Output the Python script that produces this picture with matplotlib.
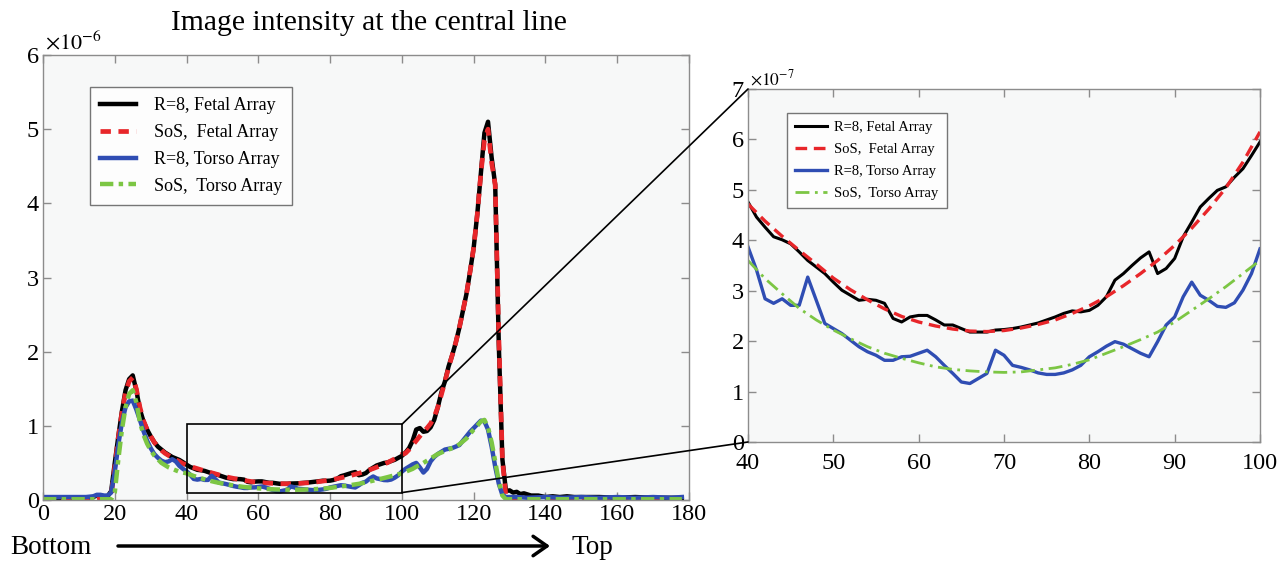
import numpy as np
import matplotlib
matplotlib.use("Agg")
import matplotlib.pyplot as plt
from matplotlib.patches import Rectangle, ConnectionPatch, FancyArrowPatch

plt.rcParams['font.family'] = ['Liberation Serif', 'DejaVu Serif']
plt.rcParams['mathtext.fontset'] = 'stix'

# ---------------- data (units: 1e-6 for full view, 1e-7 for zoom view) -------------
labels = ["R=8, Fetal Array", "SoS,  Fetal Array", "R=8, Torso Array", "SoS,  Torso Array"]
colors = ["#000000", "#e8262a", "#2f4db3", "#7cc644"]

# zoom window 40..100 (values in 1e-7)
zoom_x = list(range(40, 101))
r8_fetal_zoom = [4.76, 4.46, 4.26, 4.07, 4.01, 3.93, 3.77, 3.60, 3.47, 3.34,
                 3.17, 3.01, 2.91, 2.81, 2.83, 2.81, 2.75, 2.45, 2.38, 2.48,
                 2.51, 2.51, 2.42, 2.32, 2.32, 2.25, 2.18, 2.18, 2.18, 2.22,
                 2.23, 2.25, 2.28, 2.32, 2.36, 2.42, 2.48, 2.55, 2.60, 2.58,
                 2.61, 2.71, 2.88, 3.21, 3.34, 3.50, 3.65, 3.77, 3.34, 3.44,
                 3.64, 4.07, 4.36, 4.66, 4.83, 4.99, 5.06, 5.25, 5.42, 5.68, 5.95]
r8_torso_zoom = [3.87, 3.41, 2.84, 2.75, 2.84, 2.71, 2.71, 3.27, 2.81, 2.35,
                 2.25, 2.15, 2.02, 1.89, 1.79, 1.72, 1.62, 1.62, 1.69, 1.70,
                 1.76, 1.82, 1.69, 1.52, 1.36, 1.19, 1.16, 1.26, 1.36, 1.82,
                 1.72, 1.52, 1.48, 1.43, 1.37, 1.34, 1.34, 1.37, 1.43, 1.52,
                 1.69, 1.79, 1.90, 1.99, 1.94, 1.85, 1.76, 1.69, 1.99, 2.32,
                 2.48, 2.88, 3.17, 2.91, 2.81, 2.69, 2.67, 2.76, 3.01, 3.34, 3.83]
sos_x_zoom = list(range(40, 101, 2))
sos_fetal_zoom = [4.72, 4.38, 4.08, 3.80, 3.53, 3.25, 3.02, 2.82, 2.64, 2.49,
                  2.38, 2.30, 2.24, 2.20, 2.19, 2.21, 2.26, 2.33, 2.42, 2.55,
                  2.70, 2.88, 3.10, 3.34, 3.60, 3.90, 4.24, 4.62, 5.04, 5.55, 6.15]
sos_torso_zoom = [3.60, 3.24, 2.94, 2.65, 2.42, 2.22, 2.05, 1.89, 1.76, 1.66,
                  1.57, 1.49, 1.44, 1.41, 1.39, 1.38, 1.39, 1.43, 1.47, 1.54,
                  1.63, 1.76, 1.89, 2.03, 2.18, 2.38, 2.61, 2.84, 3.08, 3.34, 3.60]

# full profile outside the zoom window (values in 1e-6)
lo_x = [0, 2, 4, 6, 8, 10, 12, 14, 15, 16, 17, 18, 19, 20, 21, 22, 23, 24, 25, 26,
        27, 28, 29, 30, 31, 32, 33, 34, 35, 36, 37, 38, 39]
r8_fetal_lo = [0.03, 0.03, 0.03, 0.03, 0.03, 0.03, 0.03, 0.04, 0.06, 0.06, 0.05, 0.05,
               0.12, 0.50, 0.86, 1.20, 1.48, 1.63, 1.68, 1.48, 1.22, 1.06, 0.95, 0.86,
               0.78, 0.72, 0.68, 0.64, 0.61, 0.58, 0.56, 0.54, 0.51]
sos_fetal_lo = [0.02, 0.02, 0.02, 0.02, 0.02, 0.02, 0.02, 0.02, 0.03, 0.03, 0.03, 0.03,
                0.06, 0.45, 0.85, 1.18, 1.45, 1.60, 1.65, 1.50, 1.25, 1.07, 0.95, 0.86,
                0.78, 0.72, 0.67, 0.63, 0.60, 0.57, 0.54, 0.52, 0.49]
r8_torso_lo = [0.04, 0.04, 0.04, 0.04, 0.04, 0.04, 0.04, 0.05, 0.07, 0.07, 0.06, 0.06,
               0.10, 0.38, 0.75, 1.05, 1.25, 1.33, 1.34, 1.22, 1.08, 0.93, 0.80, 0.70,
               0.62, 0.57, 0.53, 0.51, 0.52, 0.55, 0.52, 0.46, 0.42]
sos_torso_lo = [0.01, 0.01, 0.01, 0.01, 0.01, 0.01, 0.01, 0.01, 0.01, 0.01, 0.01, 0.01,
                0.01, 0.10, 0.55, 0.95, 1.25, 1.43, 1.48, 1.32, 1.05, 0.88, 0.76, 0.67,
                0.60, 0.55, 0.50, 0.47, 0.44, 0.42, 0.40, 0.38, 0.37]

fetal_hi_x = [101, 102, 103, 104, 105, 106, 107, 108, 109, 110, 111, 112, 113, 114, 115,
              116, 117, 118, 119, 120, 121, 122, 123, 124, 125, 126, 127, 128, 129, 130,
              131, 132, 133, 134, 136, 138, 140, 142, 144, 146, 148, 150, 155, 160, 165,
              170, 175, 178]
r8_fetal_hi = [0.64, 0.70, 0.80, 0.95, 0.97, 0.92, 0.93, 0.98, 1.08, 1.25, 1.45, 1.60,
               1.80, 1.95, 2.12, 2.32, 2.55, 2.78, 3.08, 3.40, 3.85, 4.40, 4.95, 5.10,
               4.62, 4.25, 2.10, 0.55, 0.12, 0.13, 0.10, 0.11, 0.08, 0.09, 0.06, 0.06,
               0.04, 0.05, 0.04, 0.05, 0.04, 0.04, 0.04, 0.03, 0.04, 0.03, 0.03, 0.03]
sos_fetal_hi = [0.63, 0.68, 0.74, 0.80, 0.86, 0.92, 0.97, 1.03, 1.12, 1.25, 1.42, 1.60,
                1.78, 1.95, 2.12, 2.32, 2.55, 2.78, 3.08, 3.40, 3.85, 4.40, 4.85, 5.00,
                4.55, 4.25, 2.20, 0.55, 0.04, 0.02, 0.02, 0.02, 0.02, 0.02, 0.02, 0.02,
                0.02, 0.02, 0.02, 0.02, 0.02, 0.02, 0.02, 0.02, 0.02, 0.02, 0.02, 0.02]
torso_hi_x = [101, 102, 103, 104, 105, 106, 107, 108, 109, 110, 111, 112, 113, 114, 115,
              116, 117, 118, 119, 120, 121, 122, 123, 124, 125, 126, 127, 128, 129, 132,
              135, 140, 145, 150, 155, 160, 165, 170, 175, 178]
r8_torso_hi = [0.42, 0.45, 0.48, 0.50, 0.44, 0.37, 0.42, 0.52, 0.58, 0.62, 0.65, 0.68,
               0.69, 0.70, 0.72, 0.74, 0.80, 0.86, 0.92, 0.97, 1.02, 1.07, 1.06, 0.95,
               0.72, 0.45, 0.22, 0.07, 0.04, 0.04, 0.03, 0.04, 0.03, 0.04, 0.03, 0.04,
               0.03, 0.04, 0.03, 0.04]
sos_torso_hi = [0.38, 0.40, 0.42, 0.45, 0.47, 0.50, 0.53, 0.56, 0.59, 0.62, 0.64, 0.66,
                0.68, 0.70, 0.72, 0.75, 0.79, 0.83, 0.89, 0.95, 1.00, 1.06, 1.08, 0.98,
                0.78, 0.52, 0.25, 0.06, 0.01, 0.01, 0.01, 0.01, 0.01, 0.01, 0.01, 0.01,
                0.01, 0.01, 0.01, 0.01]

x_ticks_full = [0, 20, 40, 60, 80, 100, 120, 140, 160, 180]
y_ticks_full = [0, 1, 2, 3, 4, 5, 6]
x_ticks_zoom = [40, 50, 60, 70, 80, 90, 100]
y_ticks_zoom = [0, 1, 2, 3, 4, 5, 6, 7]
zoom_box = (40, 100, 0.1, 1.02)

# ---------------- assemble full-view series ----------------
def full(lo_xs, lo_v, zx, zv, hi_xs, hi_v):
    xs = list(lo_xs) + list(zx) + list(hi_xs)
    vs = list(lo_v) + [v / 10.0 for v in zv] + list(hi_v)
    return xs, vs

series_full = [
    full(lo_x, r8_fetal_lo, zoom_x, r8_fetal_zoom, fetal_hi_x, r8_fetal_hi),
    full(lo_x, sos_fetal_lo, sos_x_zoom, sos_fetal_zoom, fetal_hi_x, sos_fetal_hi),
    full(lo_x, r8_torso_lo, zoom_x, r8_torso_zoom, torso_hi_x, r8_torso_hi),
    full(lo_x, sos_torso_lo, sos_x_zoom, sos_torso_zoom, torso_hi_x, sos_torso_hi),
]
series_zoom = [(zoom_x, r8_fetal_zoom), (sos_x_zoom, sos_fetal_zoom),
               (zoom_x, r8_torso_zoom), (sos_x_zoom, sos_torso_zoom)]

W, H = 1285, 564
fig = plt.figure(figsize=(W / 100, H / 100), dpi=100)
fig.patch.set_facecolor('white')

def px_ax(l, r, t, b):
    return fig.add_axes([l / W, 1 - b / H, (r - l) / W, (b - t) / H])

ax1 = px_ax(43, 689, 55, 500)
ax2 = px_ax(748, 1260, 89, 442)

styles_full = [dict(ls='-', lw=3.2), dict(ls=(0, (2.2, 1.6)), lw=3.4),
               dict(ls='-', lw=3.2), dict(ls=(0, (3, 1.2, 1, 1.2)), lw=3.2)]
styles_zoom = [dict(ls='-', lw=2.2), dict(ls=(0, (3.5, 2.0)), lw=2.4),
               dict(ls='-', lw=2.4), dict(ls=(0, (5, 2, 1, 2)), lw=2.0)]

for ax in (ax1, ax2):
    ax.set_facecolor('#f7f8f8')
    for s in ax.spines.values():
        s.set_color('#8c8c8c')
        s.set_linewidth(1.0)
    ax.tick_params(direction='in', top=True, right=True, length=6, width=1,
                   color='#8c8c8c', labelsize=17.5, labelcolor='black', pad=3)
ax2.tick_params(axis='x', pad=8)

for (xs, vs), c, st, lab in zip(series_full, colors, styles_full, labels):
    ax1.plot(xs, vs, color=c, label=lab, **st)
ax1.set_xlim(0, 180)
ax1.set_ylim(0, 6)
ax1.set_xticks(x_ticks_full)
ax1.set_yticks(y_ticks_full)

for (xs, vs), c, st, lab in zip(series_zoom, colors, styles_zoom, labels):
    ax2.plot(xs, vs, color=c, label=lab, **st)
ax2.set_xlim(40, 100)
ax2.set_ylim(0, 7)
ax2.set_xticks(x_ticks_zoom)
ax2.set_yticks(y_ticks_zoom)

leg1 = ax1.legend(loc='upper left', bbox_to_anchor=(0.073, 0.928), fontsize=13,
                  frameon=True, fancybox=False, edgecolor='#555555', handlelength=2.0,
                  handletextpad=1.0, labelspacing=0.55, borderpad=0.55, borderaxespad=0)
leg1.get_frame().set_facecolor('white')
leg1.get_frame().set_linewidth(1.0)
leg2 = ax2.legend(loc='upper left', bbox_to_anchor=(0.076, 0.932), fontsize=10.5,
                  frameon=True, fancybox=False, edgecolor='#555555', handlelength=2.2,
                  handletextpad=0.5, labelspacing=0.6, borderpad=0.55, borderaxespad=0)
leg2.get_frame().set_facecolor('white')
leg2.get_frame().set_linewidth(1.0)

# zoom rectangle and connectors
x0, x1, y0, y1 = zoom_box
ax1.add_patch(Rectangle((x0, y0), x1 - x0, y1 - y0, fill=False, ec='black', lw=1.2, zorder=5))
for ya, yb in ((y1, 7), (y0, 0)):
    cp = ConnectionPatch(xyA=(x1, ya), coordsA=ax1.transData, xyB=(40, yb), coordsB=ax2.transData,
                         color='black', lw=1.2)
    fig.add_artist(cp)

# exponent labels
fig.text(45 / W, 1 - 43 / H, r'$\times10^{-6}$', fontsize=16, va='center', ha='left')
fig.text(750 / W, 1 - 79 / H, r'$\times10^{-7}$', fontsize=12.5, va='center', ha='left')

# title and bottom annotation
fig.text(369 / W, 1 - 23 / H, 'Image intensity at the central line', fontsize=21.3,
         ha='center', va='center')
fig.text(10 / W, 1 - 547 / H, 'Bottom', fontsize=19.5, ha='left', va='center')
fig.text(571 / W, 1 - 547 / H, 'Top', fontsize=19.5, ha='left', va='center')
fig.add_artist(FancyArrowPatch(
    (118 / W, 1 - 546 / H), (550 / W, 1 - 546 / H), transform=fig.transFigure,
    arrowstyle='->,head_length=10,head_width=7', lw=2.5, color='black',
    mutation_scale=1, shrinkA=0, shrinkB=0))

fig.savefig('out.png', dpi=100)
